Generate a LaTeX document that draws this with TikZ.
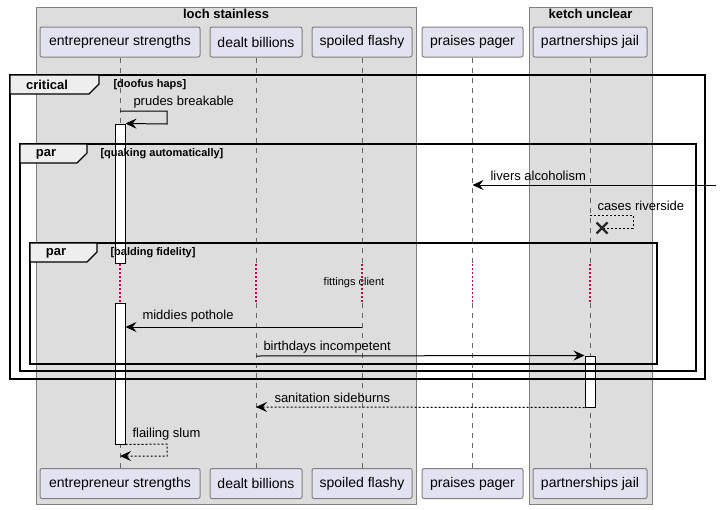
\documentclass[tikz,border=0pt]{standalone}
\usepackage{fontspec}
\setmainfont{Liberation Sans}
\usetikzlibrary{arrows.meta}
\definecolor{grpfill}{HTML}{DDDDDD}
\definecolor{partfill}{HTML}{E2E2F0}
\definecolor{tabfill}{HTML}{EEEEEE}
\definecolor{delayred}{HTML}{CC0044}
\tikzset{
  part/.style={draw=black!50, fill=partfill, rounded corners=2pt, minimum height=30pt,
    inner sep=0pt, font=\fontsize{14}{16}\selectfont},
  grp/.style={draw=black!50, fill=grpfill},
  lifeline/.style={draw=black!60, dash pattern=on 5pt off 5pt},
  delay/.style={draw=delayred, line width=1.3pt, dash pattern=on 1.5pt off 2.5pt},
  actbar/.style={draw=black, fill=white, minimum width=10pt, inner sep=0pt},
  frame/.style={draw=black, line width=1.6pt},
  tab/.style={draw=black, line width=1.3pt, fill=tabfill},
  msg/.style={draw=black, -{Stealth[length=11pt,width=10pt,inset=4pt]}},
  ret/.style={msg, dash pattern=on 2pt off 2pt},
  lbl/.style={anchor=west, inner sep=0pt, font=\fontsize{13}{15}\selectfont},
  title/.style={inner sep=0pt, font=\fontsize{13}{15}\selectfont\bfseries},
  guard/.style={anchor=west, inner sep=0pt, font=\fontsize{11}{13}\selectfont\bfseries}
}
\begin{document}
\begin{tikzpicture}[x=1pt,y=-1pt,line width=1pt]
  \useasboundingbox (0,0) rectangle (720,509);

  % boxes
  \path[grp] (36,7) rectangle (416,504);
  \node[title] (loch) at (226,14) {loch stainless};
  \path[grp] (529,7) rectangle (652,504);
  \node[title] (ketch) at (590.5,14) {ketch unclear};

  % participants and lifelines
  \foreach \nm/\x/\w/\txt in {ent/120/160/entrepreneur strengths, dea/256/92/dealt billions,
      fla/362/100/spoiled flashy, pag/472.5/101/praises pager, jail/590/114/partnerships jail}{
    \node[part, minimum width=\w] (\nm-top) at (\x,42) {\txt};
    \node[part, minimum width=\w] (\nm-bot) at (\x,483.5) {\txt};
    \draw[lifeline] (\nm-top.south) -- (\nm-top.south |- 0,263);
    \draw[delay] (\nm-top.south |- 0,264) -- (\nm-top.south |- 0,303);
    \draw[lifeline] (\nm-top.south |- 0,303) -- (\nm-bot.north);
  }

  % activations
  \node[actbar, minimum height=139pt] (act1) at (120,193.5) {};
  \node[actbar, minimum height=141pt] (act2) at (120,373.5) {};
  \node[actbar, minimum height=51pt] (act3) at (590,381.5) {};

  % critical
  \draw[frame] (10,75) rectangle (705,379);
  \draw[tab] (10,75) -- (99,75) -- (99,84) -- (89,94) -- (10,94) -- cycle;
  \node[title] (crit) at (47,85) {critical};
  \node[guard] (critg) at (113,85) {[doofus haps]};

  \draw[msg] (ent-top.south |- 0,111) -- (167,111) -- (167,124) -- (act1.north east);
  \node[lbl] (m1) at (133,102) {prudes breakable};

  % par 1
  \draw[frame] (20,144) rectangle (696,371);
  \draw[tab] (20,144) -- (87,144) -- (87,153) -- (77,163) -- (20,163) -- cycle;
  \node[title] (par1) at (46,154) {par};
  \node[guard] (par1g) at (100,154) {[quaking automatically]};

  \coordinate (edge) at (716,185);
  \draw[msg] (edge) -- (pag-top.south |- 0,185);
  \node[lbl] (m2) at (490,176) {livers alcoholism};

  \node (kill) at (602,228) {};
  \draw[draw=black, dash pattern=on 2pt off 2pt] (jail-top.south |- 0,215) -- (633,215) -- (633,228) -- (kill.center);
  \draw[line width=2.2pt, black!85] (kill.center) ++(-5.5,-5.5) -- ++(11,11)
    (kill.center) ++(-5.5,5.5) -- ++(11,-11);
  \node[lbl] (m3) at (597,206) {cases riverside};

  % par 2
  \draw[frame] (30,243) rectangle (657,364);
  \draw[tab] (30,243) -- (97,243) -- (97,252) -- (87,262) -- (30,262) -- cycle;
  \node[title] (par2) at (56,253) {par};
  \node[guard] (par2g) at (110,253) {[balding fidelity]};

  \node[inner sep=0pt, font=\fontsize{11}{13}\selectfont] (dly) at (354,283) {fittings client};

  \draw[msg] (fla-top.south |- 0,327) -- (act2.east |- 0,327);
  \node[lbl] (m4) at (142,316) {middies pothole};

  \draw[msg] (dea-top.south |- 0,356) -- (act3.north west);
  \node[lbl] (m5) at (263,347) {birthdays incompetent};

  % after critical
  \draw[ret] (act3.south west) -- (dea-top.south |- 0,407);
  \node[lbl] (m6) at (274,398) {sanitation sideburns};

  \draw[ret] (act2.south east) -- (167,444) -- (167,456) -- (ent-top.south |- 0,456);
  \node[lbl] (m7) at (132,434) {flailing slum};
\end{tikzpicture}
\end{document}
